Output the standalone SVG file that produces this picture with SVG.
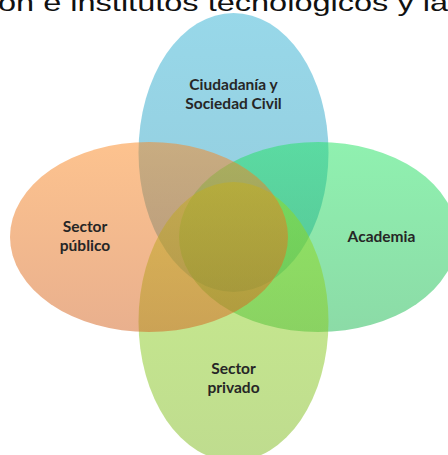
<svg xmlns="http://www.w3.org/2000/svg" width="448" height="455" viewBox="0 0 448 455">
<defs>
<linearGradient id="gBlue" x1="0" y1="0" x2="0" y2="1">
<stop offset="0" stop-color="rgb(49,177,211)"/>
<stop offset="1" stop-color="rgb(41,151,185)"/>
</linearGradient>
<linearGradient id="gGreen" x1="0" y1="0" x2="0" y2="1">
<stop offset="0" stop-color="rgb(33,227,97)"/>
<stop offset="1" stop-color="rgb(25,183,79)"/>
</linearGradient>
<linearGradient id="gLime" x1="0" y1="0" x2="0" y2="1">
<stop offset="0" stop-color="rgb(147,221,29)"/>
<stop offset="1" stop-color="rgb(127,185,31)"/>
</linearGradient>
<linearGradient id="gOrange" x1="0" y1="0" x2="0" y2="1">
<stop offset="0" stop-color="rgb(251,135,31)"/>
<stop offset="1" stop-color="rgb(211,97,29)"/>
</linearGradient>
<style>
.shape{fill-opacity:0.5;stroke:none}
.lbl{font-family:Lato,"Liberation Sans",sans-serif;font-weight:bold;font-size:15.5px;fill:#262626;text-anchor:middle}
.title{font-family:"URW Gothic","Liberation Sans",sans-serif;font-size:24px;fill:#111111}
</style>
</defs>
<text class="title" x="-2" y="11" textLength="450" lengthAdjust="spacingAndGlyphs">on e institutos tecnológicos y la</text>
<g id="ciudadania">
<ellipse class="shape" cx="233.5" cy="152.5" rx="95" ry="139.5" fill="url(#gBlue)"/>
<text class="lbl" x="233.5" y="90">Ciudadanía y</text>
<text class="lbl" x="233.5" y="108.5">Sociedad Civil</text>
</g>
<g id="academia">
<ellipse class="shape" cx="318" cy="237" rx="139" ry="95" fill="url(#gGreen)"/>
<text class="lbl" x="381.5" y="241.5">Academia</text>
</g>
<g id="privado">
<ellipse class="shape" cx="233.5" cy="321.5" rx="95" ry="139.5" fill="url(#gLime)"/>
<text class="lbl" x="233.5" y="374">Sector</text>
<text class="lbl" x="233.5" y="392.5">privado</text>
</g>
<g id="publico">
<ellipse class="shape" cx="149" cy="237" rx="139" ry="95" fill="url(#gOrange)"/>
<text class="lbl" x="85" y="232">Sector</text>
<text class="lbl" x="85" y="250.5">público</text>
</g>
<g id="connectors"/>
</svg>
